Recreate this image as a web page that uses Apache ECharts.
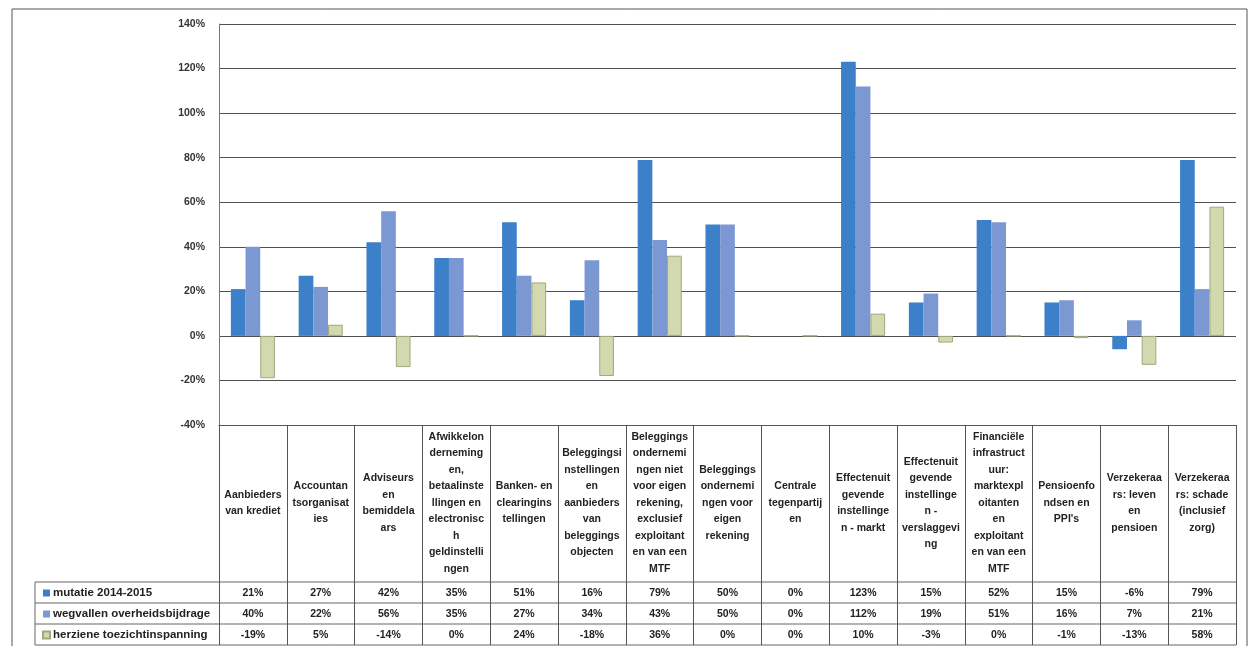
<!DOCTYPE html>
<html>
<head>
<meta charset="utf-8">
<script src="https://cdn.jsdelivr.net/npm/echarts@6/dist/echarts.min.js"></script>
<style>
html,body{margin:0;padding:0;background:#fff;}
#c{width:1251px;height:646px;}
</style>
</head>
<body>
<div id="c"></div>
<script>
const categories = [
  "Aanbieders\nvan krediet",
  "Accountan\ntsorganisat\nies",
  "Adviseurs\nen\nbemiddela\nars",
  "Afwikkelon\nderneming\nen,\nbetaalinste\nllingen en\nelectronisc\nh\ngeldinstelli\nngen",
  "Banken- en\nclearingins\ntellingen",
  "Beleggingsi\nnstellingen\nen\naanbieders\nvan\nbeleggings\nobjecten",
  "Beleggings\nondernemi\nngen niet\nvoor eigen\nrekening,\nexclusief\nexploitant\nen van een\nMTF",
  "Beleggings\nondernemi\nngen voor\neigen\nrekening",
  "Centrale\ntegenpartij\nen",
  "Effectenuit\ngevende\ninstellinge\nn - markt",
  "Effectenuit\ngevende\ninstellinge\nn -\nverslaggevi\nng",
  "Financiële\ninfrastruct\nuur:\nmarktexpl\noitanten\nen\nexploitant\nen van een\nMTF",
  "Pensioenfo\nndsen en\nPPI's",
  "Verzekeraa\nrs: leven\nen\npensioen",
  "Verzekeraa\nrs: schade\n(inclusief\nzorg)"
];
const seriesNames = ["mutatie 2014-2015", "wegvallen overheidsbijdrage", "herziene toezichtinspanning"];
const mutatie = [21, 27, 42, 35, 51, 16, 79, 50, 0, 123, 15, 52, 15, -6, 79];
const wegvallen = [40, 22, 56, 35, 27, 34, 43, 50, 0, 112, 19, 51, 16, 7, 21];
const herziene = [-19, 5, -14, 0, 24, -18, 36, 0, 0, 10, -3, 0, -1, -13, 58];
const yTicks = { min: -40, max: 140, interval: 20 };

const colors = ["#3b80c9", "#7c98d2", "#d3d9ae"];
const fontFam = "'Liberation Sans', Arial, sans-serif";
const pct = v => v + "%";

const chart = echarts.init(document.getElementById('c'), null, {renderer: 'canvas'});

const rowAxis = (vals, margin) => ({
  type: 'category',
  position: 'bottom',
  gridIndex: 0,
  data: vals.map(pct),
  axisLine: {show: false},
  axisTick: {show: false},
  splitLine: {show: false},
  axisLabel: {
    interval: 0, margin: margin, verticalAlign: 'middle',
    fontFamily: fontFam, fontSize: 10.5, fontWeight: 'bold', color: '#222'
  }
});

const tableLine = (x1, y1, x2, y2) => ({
  type: 'line', silent: true,
  shape: {x1, y1, x2, y2},
  style: {stroke: '#666', lineWidth: 1}
});

chart.setOption({
  animation: false,
  backgroundColor: '#fff',
  grid: {left: 219, right: 15, top: 24, bottom: 221, containLabel: false},
  legend: {
    orient: 'vertical',
    left: 42, top: 586.5,
    padding: 0,
    height: 80,
    itemWidth: 7, itemHeight: 7, itemGap: 8,
    icon: 'rect',
    data: seriesNames,
    textStyle: {fontFamily: fontFam, fontSize: 11.5, lineHeight: 13, fontWeight: 'bold', color: '#222', padding: [0,0,0,-2]}
  },
  xAxis: [
    {
      type: 'category',
      position: 'bottom',
      data: categories,
      boundaryGap: true,
      axisLine: {show: true, onZero: false, lineStyle: {color: '#555', width: 1}},
      axisTick: {show: true, length: 220, inside: false, lineStyle: {color: '#555', width: 1}},
      splitLine: {show: false},
      axisLabel: {
        interval: 0, margin: 78, verticalAlign: 'middle', align: 'center',
        lineHeight: 16.5,
        fontFamily: fontFam, fontSize: 10.5, fontWeight: 'bold', color: '#222'
      }
    },
    rowAxis(mutatie, 168),
    rowAxis(wegvallen, 189),
    rowAxis(herziene, 210)
  ],
  yAxis: {
    type: 'value',
    min: yTicks.min, max: yTicks.max, interval: yTicks.interval,
    axisLine: {show: true, lineStyle: {color: '#777', width: 1}},
    axisTick: {show: false},
    splitLine: {show: true, lineStyle: {color: '#505050', width: 1.2}},
    axisLabel: {
      formatter: '{value}%', margin: 14,
      fontFamily: fontFam, fontSize: 10.5, fontWeight: 'bold', color: '#333'
    }
  },
  series: [
    {name: seriesNames[0], type: 'bar', data: mutatie, barGap: '0%', barCategoryGap: '35%',
     itemStyle: {color: colors[0]}},
    {name: seriesNames[1], type: 'bar', data: wegvallen, barGap: '0%', barCategoryGap: '35%',
     itemStyle: {color: colors[1]}},
    {name: seriesNames[2], type: 'bar', data: herziene, barGap: '0%', barCategoryGap: '35%',
     itemStyle: {color: colors[2], borderColor: '#a3a77f', borderWidth: 1}}
  ],
  graphic: [
    {type: 'rect', silent: true, shape: {x: 12, y: 9, width: 1235, height: 660},
     style: {fill: null, stroke: '#555', lineWidth: 1}},
    tableLine(35, 582, 1236, 582),
    tableLine(35, 603, 1236, 603),
    tableLine(35, 624, 1236, 624),
    tableLine(35, 645, 1236, 645),
    tableLine(35, 582, 35, 645)
  ]
});
</script>
</body>
</html>
